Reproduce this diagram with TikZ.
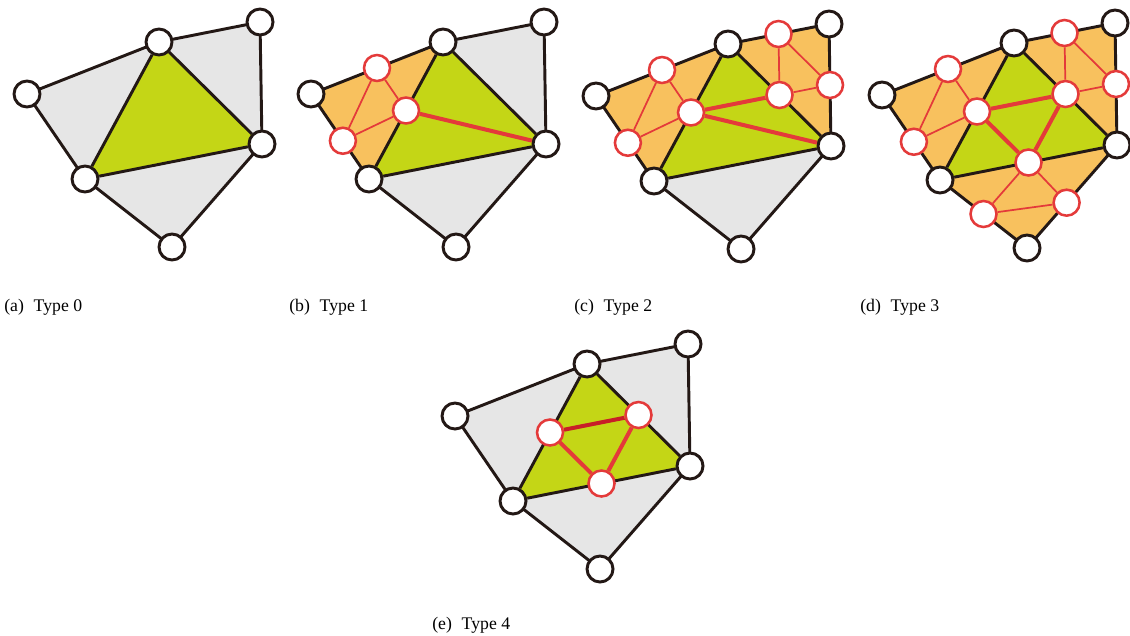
\documentclass[tikz,border=0pt]{standalone}
\usepackage{fontspec}
\setmainfont{Liberation Serif}
\usetikzlibrary{calc, backgrounds}
\definecolor{meshgray}{RGB}{230,230,230}
\definecolor{facegreen}{RGB}{196,214,22}
\definecolor{faceorange}{RGB}{248,193,94}
\definecolor{edgeblack}{RGB}{35,24,21}
\definecolor{splitred}{RGB}{228,58,58}
\definecolor{splitdark}{RGB}{200,30,40}

\begin{document}
\begin{tikzpicture}[
    x=0.75pt, y=-0.75pt,
    vert/.style={circle, draw=edgeblack, fill=white, line width=2.2pt, minimum size=19.5pt, inner sep=0pt},
    midvert/.style={circle, draw=splitred, fill=white, line width=1.9pt, minimum size=19.5pt, inner sep=0pt},
    meshedge/.style={draw=edgeblack, line width=2.2pt, line join=round},
    thinsplit/.style={draw=splitred, line width=1.3pt},
    thicksplit/.style={draw=splitred, line width=3pt},
    grayface/.style={fill=meshgray},
    greenface/.style={fill=facegreen},
    orangeface/.style={fill=faceorange},
    subcap/.style={anchor=base west, inner sep=0pt, font=\fontsize{13.3}{16}\selectfont}
]
    \useasboundingbox (0,0) rectangle (1130,635);

    % mesh vertices of the five panels
    \foreach \p/\sx/\sy in {a/0/0, b/284/0, c/569/2, d/855/1, e/428/322}{
        \node[vert] (\p1) at (\sx+27, \sy+94) {};
        \node[vert] (\p2) at (\sx+159, \sy+42) {};
        \node[vert] (\p3) at (\sx+260, \sy+22) {};
        \node[vert] (\p4) at (\sx+262, \sy+144) {};
        \node[vert] (\p5) at (\sx+85, \sy+179) {};
        \node[vert] (\p6) at (\sx+172, \sy+247) {};
    }

    % split vertices
    \node[midvert] (bm12) at ($(b1)!0.5!(b2)$) {};
    \node[midvert] (bm15) at ($(b1)!0.55!(b5)$) {};
    \node[midvert] (bm25) at ($(b2)!0.5!(b5)$) {};

    \node[midvert] (cm12) at ($(c1)!0.5!(c2)$) {};
    \node[midvert] (cm15) at ($(c1)!0.55!(c5)$) {};
    \node[midvert] (cm25) at ($(c2)!0.5!(c5)$) {};
    \node[midvert] (cm23) at ($(c2)!0.5!(c3)$) {};
    \node[midvert] (cm34) at ($(c3)!0.5!(c4)$) {};
    \node[midvert] (cm24) at ($(c2)!0.5!(c4)$) {};

    \node[midvert] (dm12) at ($(d1)!0.5!(d2)$) {};
    \node[midvert] (dm15) at ($(d1)!0.55!(d5)$) {};
    \node[midvert] (dm25) at ($(d2)!0.5!(d5)$) {};
    \node[midvert] (dm23) at ($(d2)!0.5!(d3)$) {};
    \node[midvert] (dm34) at ($(d3)!0.5!(d4)$) {};
    \node[midvert] (dm24) at ($(d2)!0.5!(d4)$) {};
    \node[midvert] (dm45) at ($(d4)!0.5!(d5)$) {};
    \node[midvert] (dm56) at ($(d5)!0.5!(d6)$) {};
    \node[midvert] (dm46) at ($(d4)!0.56!(d6)$) {};

    \node[midvert] (em25) at ($(e2)!0.5!(e5)$) {};
    \node[midvert] (em24) at ($(e2)!0.5!(e4)$) {};
    \node[midvert] (em45) at ($(e4)!0.5!(e5)$) {};

    \begin{scope}[on background layer]
        % faces
        \foreach \p/\fl/\fr/\fb in {a/grayface/grayface/grayface, b/orangeface/grayface/grayface, c/orangeface/orangeface/grayface, d/orangeface/orangeface/orangeface, e/grayface/grayface/grayface}{
            \fill[\fl] (\p1.center) -- (\p2.center) -- (\p5.center) -- cycle;
            \fill[\fr] (\p2.center) -- (\p3.center) -- (\p4.center) -- cycle;
            \fill[\fb] (\p5.center) -- (\p4.center) -- (\p6.center) -- cycle;
            \fill[greenface] (\p2.center) -- (\p4.center) -- (\p5.center) -- cycle;
            % edges
            \draw[meshedge] (\p1.center) -- (\p2.center) -- (\p3.center) -- (\p4.center) -- (\p6.center) -- (\p5.center) -- cycle;
            \draw[meshedge] (\p2) -- (\p5);
            \draw[meshedge] (\p2) -- (\p4);
            \draw[meshedge] (\p5) -- (\p4);
        }

        % Type 1
        \draw[thinsplit] (bm12) -- (bm15) -- (bm25) -- (bm12);
        \draw[thicksplit] (bm25) -- (b4);

        % Type 2
        \draw[thinsplit] (cm12) -- (cm15) -- (cm25) -- (cm12);
        \draw[thinsplit] (cm23) -- (cm34) -- (cm24) -- (cm23);
        \draw[thicksplit] (cm25) -- (cm24);
        \draw[thicksplit] (cm25) -- (c4);

        % Type 3
        \draw[thinsplit] (dm12) -- (dm15) -- (dm25) -- (dm12);
        \draw[thinsplit] (dm23) -- (dm34) -- (dm24) -- (dm23);
        \draw[thinsplit] (dm45) -- (dm56) -- (dm46) -- (dm45);
        \draw[thicksplit] (dm25) -- (dm24) -- (dm45) -- (dm25);

        % Type 4
        \draw[thicksplit, draw=splitdark] (em25) -- (em24);
        \draw[thicksplit] (em24) -- (em45) -- (em25);
    \end{scope}

    % captions
    \node[subcap] (capa) at (4, 311) {(a)\hspace{0.55em}Type 0};
    \node[subcap] (capb) at (289, 311) {(b)\hspace{0.55em}Type 1};
    \node[subcap] (capc) at (574, 311) {(c)\hspace{0.55em}Type 2};
    \node[subcap] (capd) at (860, 311) {(d)\hspace{0.55em}Type 3};
    \node[subcap] (cape) at (432, 629) {(e)\hspace{0.55em}Type 4};
\end{tikzpicture}
\end{document}
